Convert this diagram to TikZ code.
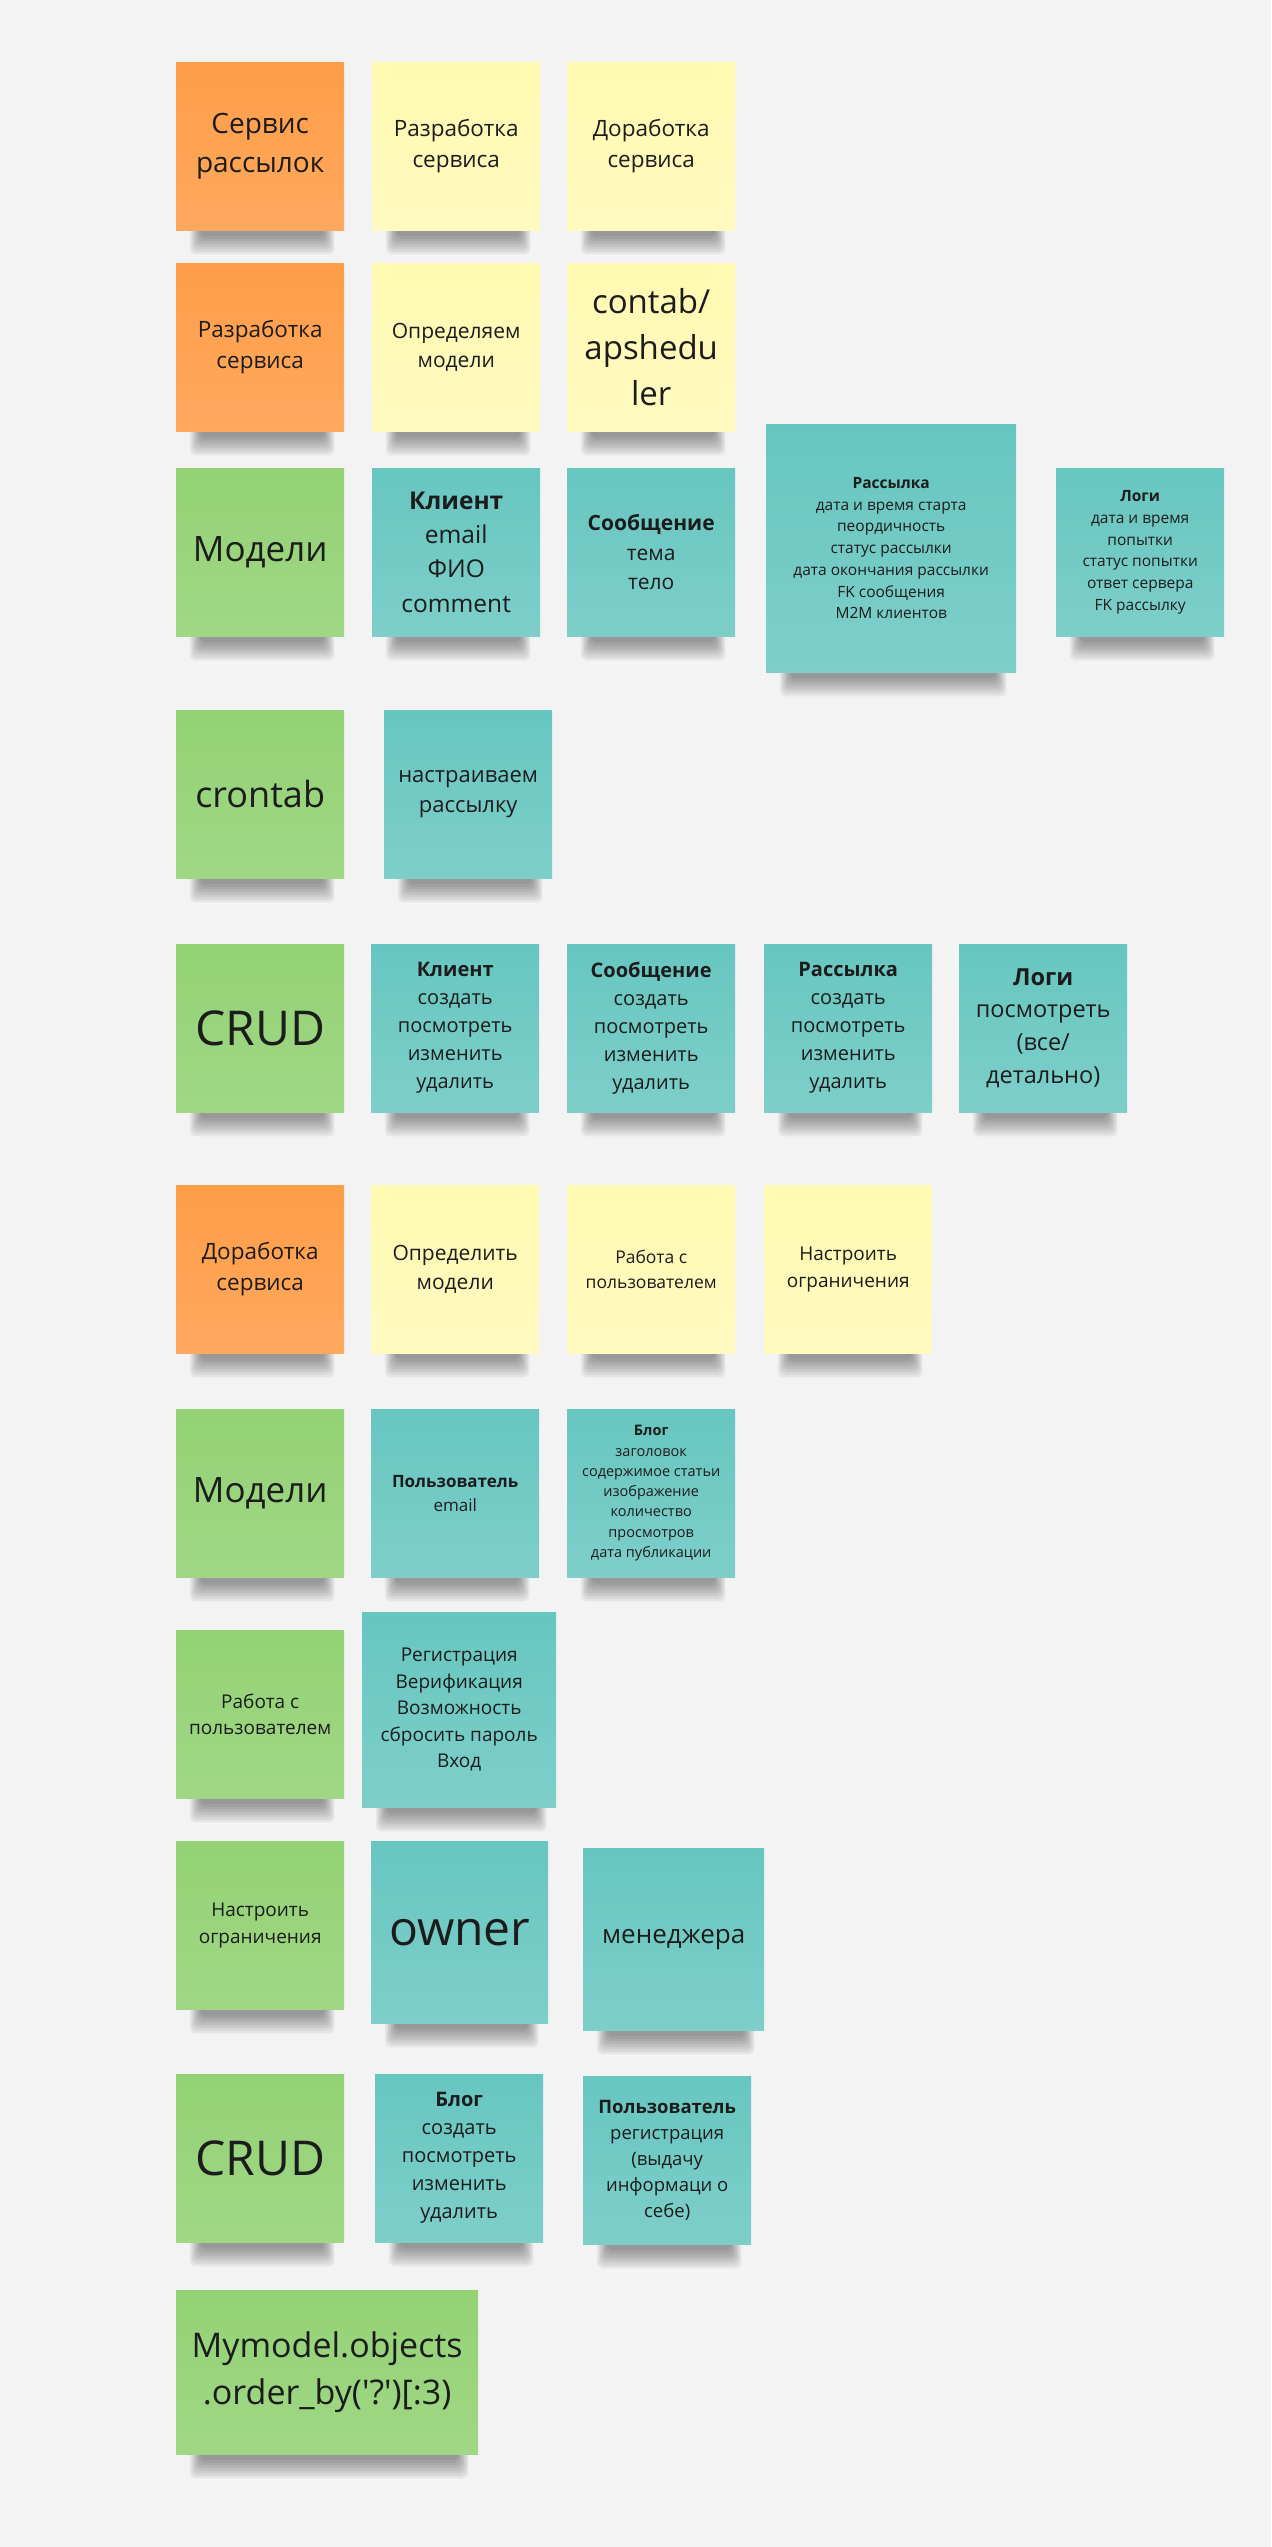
\documentclass[tikz,border=0pt]{standalone}
\usepackage{fontspec}
\setmainfont{Open Sans}
\usetikzlibrary{calc, backgrounds}
\definecolor{bg}{HTML}{F3F3F3}
\definecolor{orng}{HTML}{FF9D48}
\definecolor{yllw}{HTML}{FFF9B1}
\definecolor{grn}{HTML}{93D275}
\definecolor{teal}{HTML}{67C6C0}
\definecolor{ink}{HTML}{1C1C1C}
\newcommand\fs[1]{\fontsize{#1}{\fpeval{1.4*#1}}\selectfont}
\tikzset{
  note/.style={anchor=north west, minimum width=168pt, minimum height=168pt,
    align=center, text=ink, inner sep=3pt},
  orangenote/.style={note, top color=orng, bottom color=orng!88!white},
  yellownote/.style={note, top color=yllw, bottom color=yllw!80!white},
  greennote/.style={note, top color=grn, bottom color=grn!88!white},
  tealnote/.style={note, top color=teal, bottom color=teal!85!white},
  sz/.style 2 args={minimum width=#1pt, minimum height=#2pt},
  shadowlayer/.style={black, opacity=0.055, rounded corners=6pt}
}
\begin{document}
\begin{tikzpicture}[x=1pt, y=1pt]
  \useasboundingbox (0,0) rectangle (1271,-2547);

  % row 1
  \node[orangenote, font=\fs{28}] (srv) at (176,-62) {Сервис\\рассылок};
  \node[yellownote, font=\fs{22.5}] (dev) at (372,-62) {Разработка\\сервиса};
  \node[yellownote, font=\fs{22.5}] (upg) at (567,-62) {Доработка\\сервиса};

  % row 2
  \node[orangenote, font=\fs{22.5}] (dev2) at (176,-263) {Разработка\\сервиса};
  \node[yellownote, font=\fs{21}] (defm) at (372,-263) {Определяем\\модели};
  \node[yellownote, font=\fs{33}] (cron) at (567,-263) {contab/\\apshedu\\ler};

  % row 3: models
  \node[greennote, font=\fs{35}] (mdl) at (176,-468) {Модели};
  \node[tealnote, font=\fs{24.5}] (cli) at (372,-468) {\textbf{Клиент}\\email\\ФИО\\comment};
  \node[tealnote, font=\fs{21}] (msg) at (567,-468) {\textbf{Сообщение}\\тема\\тело};
  \node[tealnote, sz={250}{248}, font=\fs{15.5}] (mail) at (766,-424)
    {\textbf{Рассылка}\\дата и время старта\\пеордичность\\статус рассылки\\дата окончания рассылки\\FK сообщения\\M2M клиентов};
  \node[tealnote, font=\fs{15.5}] (logs) at (1056,-468)
    {\textbf{Логи}\\дата и время\\попытки\\статус попытки\\ответ сервера\\FK рассылку};

  % row 4
  \node[greennote, font=\fs{36}] (crt) at (176,-710) {crontab};
  \node[tealnote, font=\fs{22}] (cfg) at (384,-710) {настраиваем\\рассылку};

  % row 5: CRUD
  \node[greennote, font=\fs{48}] (crud) at (176,-944) {CRUD};
  \foreach \t/\x [count=\i] in {Клиент/371, Сообщение/567, Рассылка/764}{
    \node[tealnote, font=\fs{20}] (ops\i) at (\x,-944)
      {\textbf{\t}\\создать\\посмотреть\\изменить\\удалить};
  }
  \node[tealnote, font=\fs{23.5}] (crudlog) at (959,-944) {\textbf{Логи}\\посмотреть\\(все/\\детально)};

  % row 6
  \node[orangenote, font=\fs{22.5}] (upg2) at (176,-1185) {Доработка\\сервиса};
  \node[yellownote, font=\fs{21}] (defm2) at (371,-1185) {Определить\\модели};
  \node[yellownote, font=\fs{17.5}] (usr) at (567,-1185) {Работа с\\пользователем};
  \node[yellownote, font=\fs{19}] (lim) at (764,-1185) {Настроить\\ограничения};

  % row 7
  \node[greennote, font=\fs{35}] (mdl2) at (176,-1409) {Модели};
  \node[tealnote, font=\fs{17}] (user) at (371,-1409) {\textbf{Пользователь}\\email};
  \node[tealnote, font=\fs{14.5}] (blog) at (567,-1409)
    {\textbf{Блог}\\заголовок\\содержимое статьи\\изображение\\количество\\просмотров\\дата публикации};

  % row 8
  \node[greennote, font=\fs{19}] (usr2) at (176,-1630) {Работа с\\пользователем};
  \node[tealnote, sz={194}{195}, font=\fs{19}] (reg) at (362,-1612)
    {Регистрация\\Верификация\\Возможность\\сбросить пароль\\Вход};

  % row 9
  \node[greennote, font=\fs{19}] (lim2) at (176,-1841) {Настроить\\ограничения};
  \node[tealnote, sz={177}{182}, font=\fs{48}] (own) at (371,-1841) {owner};
  \node[tealnote, sz={181}{182}, font=\fs{26}] (mgr) at (583,-1848) {менеджера};

  % row 10
  \node[greennote, font=\fs{48}] (crud2) at (176,-2074) {CRUD};
  \node[tealnote, font=\fs{20}] (crudblog) at (375,-2074)
    {\textbf{Блог}\\создать\\посмотреть\\изменить\\удалить};
  \node[tealnote, font=\fs{18.5}] (cruduser) at (583,-2076)
    {\textbf{Пользователь}\\регистрация\\(выдачу\\информаци о\\себе)};

  % row 11
  \node[greennote, sz={302}{164}, font=\fs{34}] (rnd) at (176,-2290)
    {Mymodel.objects\\.order\_by(\textquotesingle?\textquotesingle)[:3)};

  % canvas and soft shadows under the notes
  \begin{scope}[on background layer]
    \fill[bg] (0,0) rectangle (1271,-2547);
    \foreach \n in {srv,dev,upg,dev2,defm,cron,mdl,cli,msg,mail,logs,crt,cfg,
        crud,ops1,ops2,ops3,crudlog,upg2,defm2,usr,lim,mdl2,user,blog,usr2,reg,
        lim2,own,mgr,crud2,crudblog,cruduser,rnd}{
      \foreach \k in {0,...,7}{
        \fill[shadowlayer] ($(\n.south west)+(14+1.5*\k,4)$)
          rectangle ($(\n.south east)+(-10-1.5*\k,-24+2.6*\k)$);
      }
    }
  \end{scope}
\end{tikzpicture}
\end{document}
